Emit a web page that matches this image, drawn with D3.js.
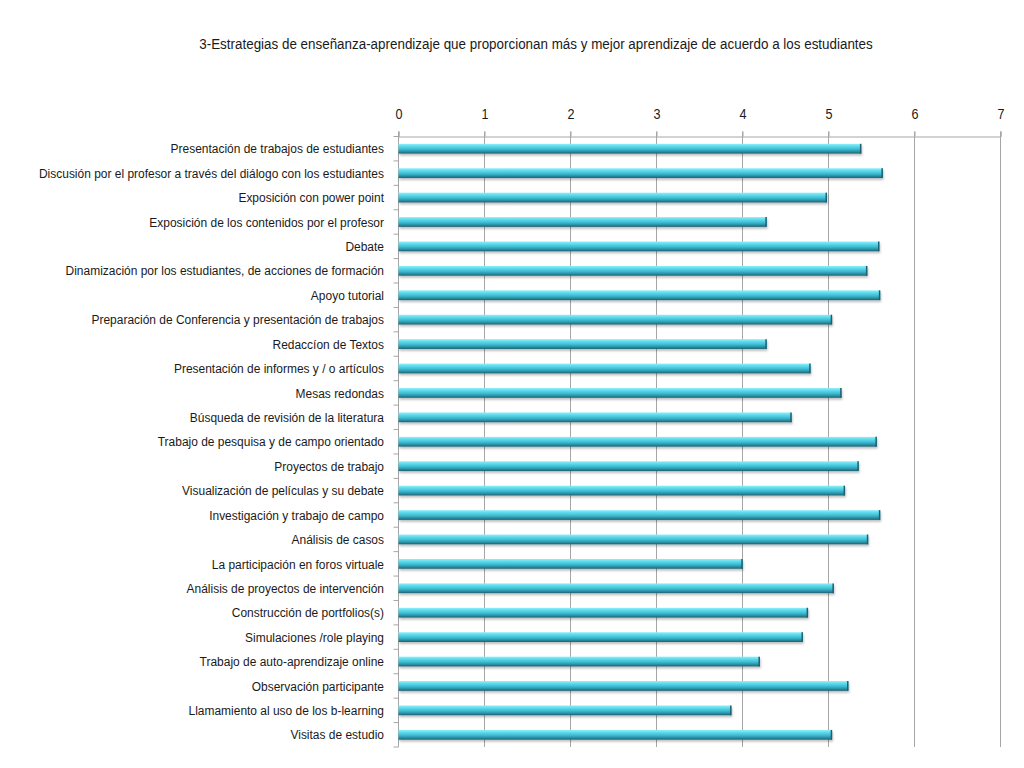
<!DOCTYPE html>
<html><head><meta charset="utf-8">
<script src="https://cdn.jsdelivr.net/npm/d3@7"></script>
<style>
html,body{margin:0;padding:0;background:#fff;}
text{font-family:"Liberation Sans",Arial,sans-serif;fill:#1a1a1a;}
</style></head>
<body>
<svg id="chart" width="1024" height="768"></svg>
<script>
const title = "3-Estrategias de enseñanza-aprendizaje que proporcionan más y mejor aprendizaje de acuerdo a los estudiantes";
const categories = [
  "Presentación de trabajos de estudiantes",
  "Discusión por el profesor a través del diálogo con los estudiantes",
  "Exposición con power point",
  "Exposición de los contenidos por el profesor",
  "Debate",
  "Dinamización por los estudiantes, de acciones de formación",
  "Apoyo tutorial",
  "Preparación de Conferencia y presentación de trabajos",
  "Redaccíon de Textos",
  "Presentación de informes y / o artículos",
  "Mesas redondas",
  "Búsqueda de revisión de la literatura",
  "Trabajo de pesquisa y de campo orientado",
  "Proyectos de trabajo",
  "Visualización de películas y su debate",
  "Investigación y trabajo de campo",
  "Análisis de casos",
  "La participación en foros virtuale",
  "Análisis de proyectos de intervención",
  "Construcción de portfolios(s)",
  "Simulaciones /role playing",
  "Trabajo de auto-aprendizaje online",
  "Observación participante",
  "Llamamiento al uso de los b-learning",
  "Visitas de estudio"
];
const values = [5.38, 5.63, 4.98, 4.28, 5.59, 5.45, 5.60, 5.04, 4.28, 4.79, 5.15, 4.57, 5.56, 5.35, 5.19, 5.60, 5.46, 4.00, 5.06, 4.76, 4.70, 4.20, 5.23, 3.87, 5.04];
const xTicks = [0, 1, 2, 3, 4, 5, 6, 7];

const svg = d3.select("#chart");
const pLeft = 398.5, pRight = 1000.5, pTop = 136.5, pBottom = 747;

const defs = svg.append("defs");
const grad = defs.append("linearGradient").attr("id", "barGrad")
  .attr("x1", 0).attr("y1", 0).attr("x2", 0).attr("y2", 1);
[["0%", "#8ef0fa"], ["25%", "#5fdaec"], ["55%", "#3cbcd2"], ["80%", "#2b8fa4"], ["100%", "#1f5f70"]]
  .forEach(([o, c]) => grad.append("stop").attr("offset", o).attr("stop-color", c));
const sh = defs.append("filter").attr("id", "shadow").attr("x", "-5%").attr("y", "-50%").attr("width", "110%").attr("height", "250%");
sh.append("feDropShadow").attr("dx", 1).attr("dy", 2).attr("stdDeviation", 1.2).attr("flood-color", "#000").attr("flood-opacity", 0.25);

const x = d3.scaleLinear().domain([0, 7]).range([pLeft, pRight]);
const y = d3.scaleBand().domain(categories).range([pTop, pBottom]).paddingInner(0.6).paddingOuter(0.3);
const yb = d3.scaleBand().domain(categories).range([pTop, pBottom]);

// title
svg.append("text").attr("transform", "translate(536,49) scale(0.894,1)").attr("text-anchor", "middle")
  .style("font-size", "15px").text(title);

// gridlines
svg.append("g").selectAll("line").data(xTicks).join("line")
  .attr("x1", d => x(d)).attr("x2", d => x(d))
  .attr("y1", pTop - 5).attr("y2", pBottom)
  .attr("stroke", "#a6a6a6").attr("stroke-width", 1);

// top axis
const xAxis = d3.axisTop(x).tickValues(xTicks).tickSize(5).tickFormat(d3.format("d"));
const gx = svg.append("g").attr("transform", `translate(0,${pTop})`).call(xAxis);
gx.select(".domain").attr("stroke", "#a6a6a6");
gx.selectAll(".tick line").attr("stroke", "#a6a6a6");
gx.selectAll(".tick text").attr("y", -18).attr("transform", "scale(0.9,1)")
  .style("font-size", "14px").style("fill", "#1a1a1a")
  .style("font-family", "'Liberation Sans',Arial,sans-serif");

// left axis line with ticks at band boundaries
svg.append("line").attr("x1", pLeft).attr("x2", pLeft).attr("y1", pTop).attr("y2", pBottom)
  .attr("stroke", "#a6a6a6");
const bounds = categories.map(c => yb(c)).concat([pBottom]);
svg.append("g").selectAll("line").data(bounds).join("line")
  .attr("x1", pLeft - 5).attr("x2", pLeft).attr("y1", d => d).attr("y2", d => d)
  .attr("stroke", "#a6a6a6");

// labels
svg.append("g").selectAll("text").data(categories).join("text")
  .attr("transform", d => `translate(384,${yb(d) + yb.bandwidth() / 2}) scale(0.9,1)`)
  .attr("dy", "0.35em").attr("text-anchor", "end")
  .style("font-size", "13.3px").text(d => d);

// bars
const bars = svg.append("g");
bars.selectAll("rect").data(values).join("rect")
  .attr("x", x(0)).attr("y", (d, i) => y(categories[i]))
  .attr("width", d => x(d) - x(0)).attr("height", y.bandwidth())
  .attr("fill", "url(#barGrad)").attr("filter", "url(#shadow)");
bars.selectAll("line").data(values).join("line")
  .attr("x1", d => x(d) - 0.5).attr("x2", d => x(d) - 0.5)
  .attr("y1", (d, i) => y(categories[i])).attr("y2", (d, i) => y(categories[i]) + y.bandwidth())
  .attr("stroke", "#1f5f70").attr("stroke-width", 1.5);
</script>
</body></html>
